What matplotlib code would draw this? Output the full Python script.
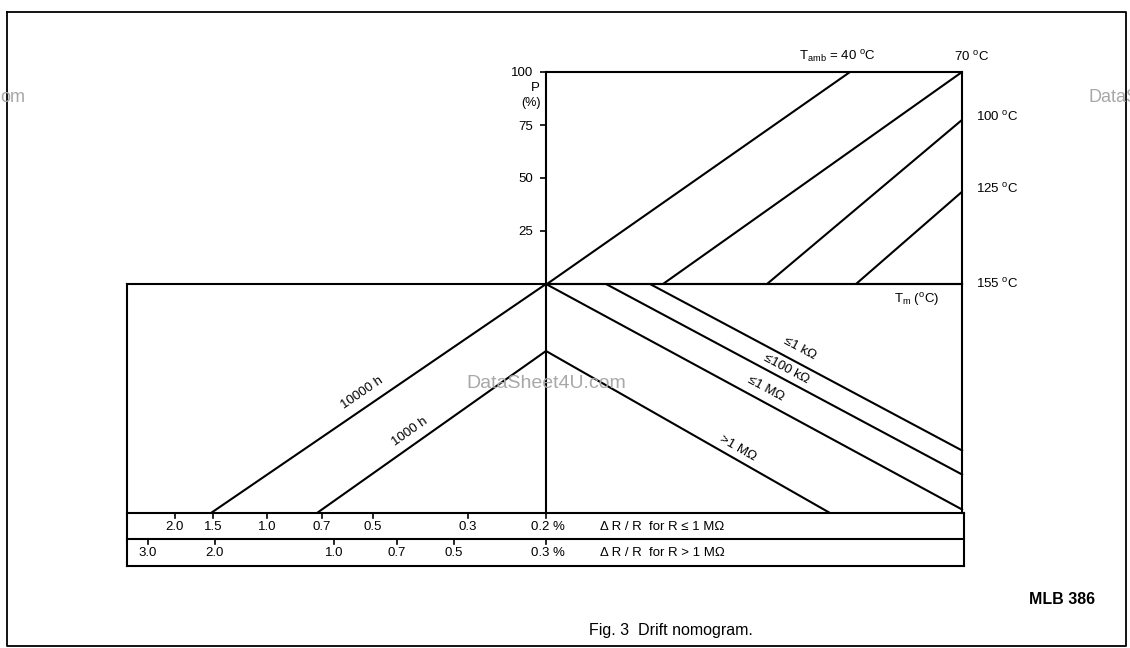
import math
import matplotlib
matplotlib.use('Agg')
import matplotlib.pyplot as plt

plt.rcParams['font.family'] = ['Liberation Sans', 'DejaVu Sans']
plt.rcParams['mathtext.fontset'] = 'custom'
plt.rcParams['mathtext.rm'] = 'Liberation Sans'
plt.rcParams['mathtext.it'] = 'Liberation Sans:italic'
plt.rcParams['mathtext.bf'] = 'Liberation Sans:bold'

# ---------------- data (nomogram scale units) ----------------
# Upper panel: power P (%) against ambient temperature lines
p_ticks = [25, 50, 75, 100]
tamb_values = ['40', '70', '100', '125']
tamb_x_at_p0 = [547, 663, 767, 856]      # where each Tamb line meets P = 0 (Tm scale)
tamb_x_end = [850, 962, 962, 962]
tamb_p_end = [100, 100, 77.4, 43.5]
tamb_right_labels = ['100', '125', '155']
tamb_right_p = [79, 45, 0]

# Lower panel: operating-time lines and resistance-range lines
hours_labels = ['10000 h', '1000 h']
hours_x = [[546, 211], [546, 317]]
hours_y = [[284, 513], [351, 513]]
res_labels = ['≤1 kΩ', '≤100 kΩ', '≤1 MΩ', '>1 MΩ']
res_x = [[650, 963], [606, 963], [546, 963], [546, 830]]
res_y = [[284, 451], [284, 475], [284, 510], [351, 513]]

# Drift scales (ΔR/R, %)
drift_le1m_labels = ['2.0', '1.5', '1.0', '0.7', '0.5', '0.3', '0.2 %']
drift_le1m_x = [175, 213, 267, 322, 373, 468, 546]
drift_gt1m_labels = ['3.0', '2.0', '1.0', '0.7', '0.5', '0.3 %']
drift_gt1m_x = [148, 215, 334, 397, 454, 546]

# ---------------- figure ----------------
W, H = 1130, 648
fig = plt.figure(figsize=(W / 100, H / 100), dpi=100)
ax = fig.add_axes([0, 0, 1, 1])
ax.set_xlim(0, W)
ax.set_ylim(H, 0)
ax.axis('off')

LW = 1.5
K = 'black'
FS = 9.5

# outer frame
ax.plot([7, 1126, 1126, 7, 7], [12, 12, 646, 646, 12], color=K, lw=1.3)

# watermarks (part of the scanned source)
wm = '#a8a8a8'
ax.text(0, 97, 'om', color=wm, fontsize=13, ha='left', va='center')
ax.text(1088, 97, 'DataS', color=wm, fontsize=13, ha='left', va='center', clip_on=True)
ax.text(546, 383, 'DataSheet4U.com', color=wm, fontsize=14, ha='center', va='center')

# ---------- upper panel ----------
x_left, x_right, y_top, y_bot = 546, 962, 72, 284
axp = fig.add_axes([x_left / W, 1 - y_bot / H, (x_right - x_left) / W, (y_bot - y_top) / H])
axp.set_xlim(x_left, x_right)
axp.set_ylim(0, 100)
axp.patch.set_alpha(0)
for s in axp.spines.values():
    s.set_linewidth(LW)
axp.set_xticks([])
axp.set_yticks(p_ticks)
axp.set_yticklabels([str(v) for v in p_ticks])
axp.tick_params(axis='y', direction='out', length=4, width=1.2, labelsize=FS, pad=5)
for x0, x1, p1 in zip(tamb_x_at_p0, tamb_x_end, tamb_p_end):
    axp.plot([x0, x1], [0, p1], color=K, lw=LW, solid_capstyle='butt')

ax.text(535, 88, 'P', fontsize=FS, ha='center', va='center')
ax.text(531, 103, '(%)', fontsize=FS - 0.5, ha='center', va='center')

deg = r'$^{\mathregular{o}}$C'
ax.text(837, 57, r'T$_{\mathregular{amb}}$ = ' + tamb_values[0] + ' ' + deg,
        fontsize=FS, ha='center', va='center')
ax.text(972, 57, tamb_values[1] + ' ' + deg, fontsize=FS, ha='center', va='center')
for lab, p in zip(tamb_right_labels, tamb_right_p):
    axp.text(x_right + 14, p, lab + ' ' + deg, fontsize=FS, ha='left', va='center', clip_on=False)

# ---------- lower panel ----------
lx0, lx1, ly0, ly1 = 127, 962, 284, 513
ax.plot([lx0, lx1], [ly0, ly0], color=K, lw=LW)
ax.plot([lx0, lx1 + 2], [ly1, ly1], color=K, lw=LW)
ax.plot([lx1, lx1], [ly0, ly1], color=K, lw=LW)
ax.plot([546, 546], [ly0, ly1], color=K, lw=LW)
ax.text(917, 299, r'T$_{\mathregular{m}}$ (' + deg + ')', fontsize=FS, ha='center', va='center')

for xs, ys in zip(hours_x, hours_y):
    ax.plot(xs, ys, color=K, lw=LW, solid_capstyle='butt')
for xs, ys in zip(res_x, res_y):
    ax.plot(xs, ys, color=K, lw=LW, solid_capstyle='butt')


def line_label(xs, ys, lab, xc, dy, fs):
    t = (xc - xs[0]) / (xs[1] - xs[0])
    yc = ys[0] + t * (ys[1] - ys[0])
    ang = -math.degrees(math.atan2(ys[1] - ys[0], xs[1] - xs[0]))
    if ang < -90:
        ang += 180
    if ang > 90:
        ang -= 180
    ax.text(xc, yc + dy, lab, rotation=ang, rotation_mode='anchor',
            ha='center', va='center', fontsize=fs)


for xs, ys, lab, xc, dy in zip(hours_x, hours_y, hours_labels, [362, 410], [-17, -15]):
    line_label(xs, ys, lab, xc, dy, FS)
for xs, ys, lab, xc, dy in zip(res_x, res_y, res_labels, [800, 786, 766, 738], [-15, -11, -14, -12]):
    line_label(xs, ys, lab, xc, dy, FS)

# ---------- drift scale rows ----------
r0, r1, r2 = 513, 539, 566
ax.plot([lx0, lx0], [ly0, r2], color=K, lw=LW)
ax.plot([lx0, 964], [r1, r1], color=K, lw=LW)
ax.plot([lx0, 964], [r2, r2], color=K, lw=LW)
ax.plot([964, 964], [r0, r2], color=K, lw=LW)

for x, lab in zip(drift_le1m_x, drift_le1m_labels):
    ax.plot([x, x], [r0, r0 + 5], color=K, lw=1.2)
    if '%' in lab:
        ax.text(x - 15, (r0 + r1) / 2 + 1, lab, fontsize=FS, ha='left', va='center')
    else:
        ax.text(x, (r0 + r1) / 2 + 1, lab, fontsize=FS, ha='center', va='center')
for x, lab in zip(drift_gt1m_x, drift_gt1m_labels):
    ax.plot([x, x], [r1, r1 + 5], color=K, lw=1.2)
    if '%' in lab:
        ax.text(x - 15, (r1 + r2) / 2 + 1, lab, fontsize=FS, ha='left', va='center')
    else:
        ax.text(x, (r1 + r2) / 2 + 1, lab, fontsize=FS, ha='center', va='center')

ax.text(600, (r0 + r1) / 2 + 1, 'Δ R / R  for R ≤ 1 MΩ', fontsize=FS, ha='left', va='center')
ax.text(600, (r1 + r2) / 2 + 1, 'Δ R / R  for R > 1 MΩ', fontsize=FS, ha='left', va='center')

# captions
ax.text(1062, 600, 'MLB 386', fontsize=11.5, fontweight='bold', ha='center', va='center')
ax.text(671, 630, 'Fig. 3  Drift nomogram.', fontsize=11.5, ha='center', va='center')

fig.savefig('out.png', dpi=100)
